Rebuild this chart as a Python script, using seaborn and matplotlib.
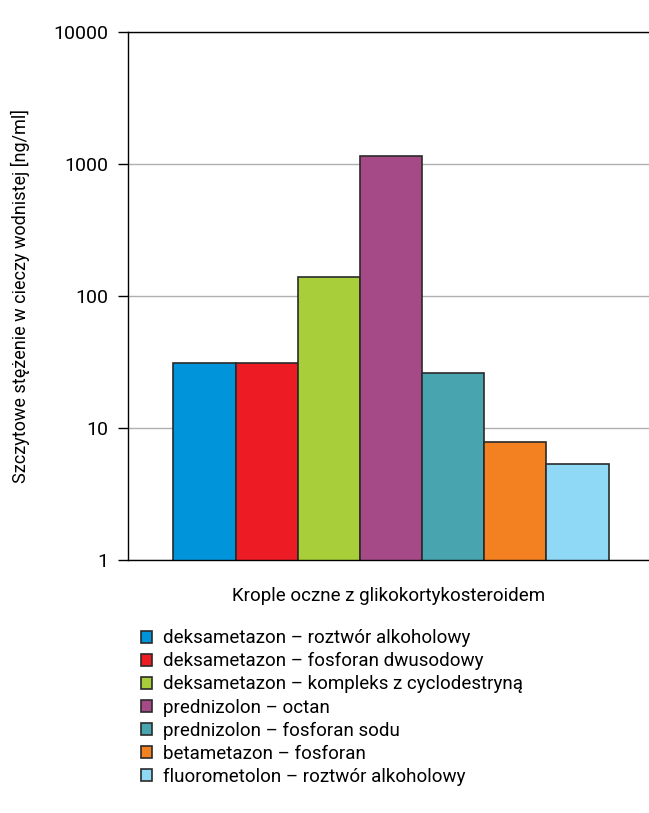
import matplotlib
matplotlib.use("Agg")
import matplotlib.pyplot as plt
import seaborn as sns
import pandas as pd

# ── Data ──────────────────────────────────────────────────────────────────────
category = "Krople oczne z glikokortykosteroidem"
drugs = [
    "deksametazon – roztwór alkoholowy",
    "deksametazon – fosforan dwusodowy",
    "deksametazon – kompleks z cyclodestryną",
    "prednizolon – octan",
    "prednizolon – fosforan sodu",
    "betametazon – fosforan",
    "fluorometolon – roztwór alkoholowy",
]
peak_conc = [31, 31, 140, 1150, 26, 7.8, 5.3]
colors = ["#0095DA", "#ED1C24", "#A8CF3A", "#A54A87", "#48A4AE", "#F38121", "#8FD8F6"]
yticks = [1, 10, 100, 1000, 10000]

df = pd.DataFrame({"grupa": [category] * len(drugs), "lek": drugs, "stezenie": peak_conc})

# ── Plot ──────────────────────────────────────────────────────────────────────
sns.set_style("white")
plt.rcParams["font.family"] = ["Roboto", "DejaVu Sans"]
plt.rcParams["text.color"] = "black"
plt.rcParams["axes.labelcolor"] = "black"
plt.rcParams["ytick.color"] = "black"

fig = plt.figure(figsize=(6.49, 8.13), dpi=100)
ax = fig.add_axes([0.197, 0.311, 0.803, 0.650])

sns.barplot(data=df, x="grupa", y="stezenie", hue="lek", palette=colors,
            width=0.835, gap=0, edgecolor="#2a2a2a", linewidth=1.2,
            saturation=1, ax=ax, legend=True)

ax.set_yscale("log")
ax.set_ylim(1, 10000)
ax.set_yticks(yticks)
ax.set_yticklabels([str(t) for t in yticks], fontsize=14)
ax.yaxis.set_minor_locator(matplotlib.ticker.NullLocator())
ax.set_xticks([])
ax.set_xlim(-0.505, 0.495)
ax.set_xlabel(category, fontsize=13.5, labelpad=19)
ax.set_ylabel("Szczytowe stężenie w cieczy wodnistej [ng/ml]", fontsize=13, labelpad=17)
ax.grid(axis="y", color="#b0b0b0", linewidth=1)
ax.set_axisbelow(True)
ax.tick_params(axis="y", which="major", left=True, length=7, width=1, color="black", pad=7)

for side in ["left", "bottom", "top"]:
    ax.spines[side].set_visible(True)
    ax.spines[side].set_color("black")
    ax.spines[side].set_linewidth(1)
ax.spines["right"].set_visible(False)

handles, labels = ax.get_legend_handles_labels()
leg = ax.legend(handles, labels, loc="upper left", bbox_to_anchor=(0.217, 0.226),
                bbox_transform=fig.transFigure, frameon=False, fontsize=13.5,
                handlelength=0.6, handleheight=0.6, handletextpad=0.6,
                labelspacing=0.27, borderaxespad=0, borderpad=0)

fig.savefig("out.png", dpi=100)
